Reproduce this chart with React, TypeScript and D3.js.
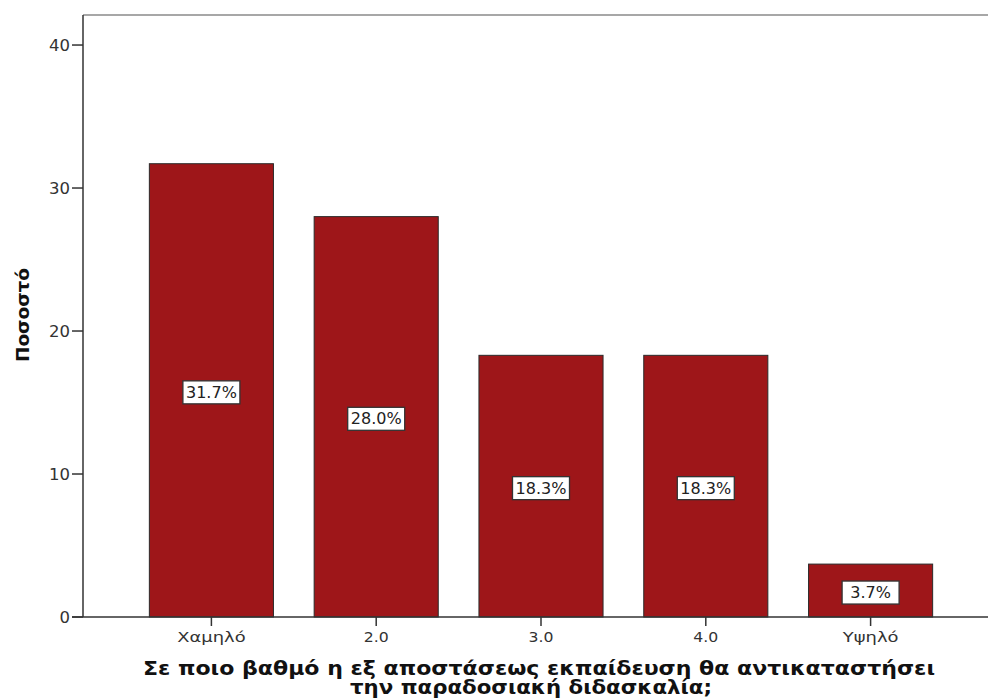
import React from "react";
import * as d3 from "d3";

const categories = ["Χαμηλό", "2.0", "3.0", "4.0", "Υψηλό"];
const percents = [31.7, 28.0, 18.3, 18.3, 3.7];
const yTicks = [0, 10, 20, 30, 40];
const yTitle = "Ποσοστό";
const xTitleLines = [
  "Σε ποιο βαθμό η εξ αποστάσεως εκπαίδευση θα αντικαταστήσει",
  "την παραδοσιακή διδασκαλία;",
];

const W = 988;
const H = 700;
const plot = { left: 83, right: 988, top: 15, bottom: 617 };
const FONT = "'DejaVu Sans', Verdana, sans-serif";

// wide, SPSS-like glyph proportions
const isGreek = (s: string) => /[\u0370-\u03ff]/.test(s);

export default function App() {
  const x = d3
    .scaleBand<string>()
    .domain(categories)
    .range([129, 953])
    .paddingInner(0.247)
    .paddingOuter(0.1235);
  const y = d3.scaleLinear().domain([0, 42.1]).range([plot.bottom, plot.top]);

  return (
    <div style={{ position: "fixed", left: 0, top: 0, width: W, height: H, overflow: "hidden" }}>
      <svg width={W} height={H} style={{ display: "block", background: "#fff" }}>
        {/* frame top line */}
        <line x1={plot.left} x2={plot.right} y1={plot.top} y2={plot.top} stroke="#8a8a8a" strokeWidth={1.5} />

        {/* bars */}
        {categories.map((c, i) => (
          <rect
            key={c}
            x={x(c)!}
            y={y(percents[i])}
            width={x.bandwidth()}
            height={y(0) - y(percents[i])}
            fill="#9e1619"
            stroke="#2a2a2a"
            strokeWidth={1}
          />
        ))}

        {/* value labels */}
        {categories.map((c, i) => {
          const cx = x(c)! + x.bandwidth() / 2;
          const cy = (y(0) + y(percents[i])) / 2 + 2;
          const label = `${percents[i].toFixed(1)}%`;
          const bw = 57;
          const bh = 23;
          return (
            <g key={`lab-${c}`}>
              <rect x={cx - bw / 2} y={cy - bh / 2} width={bw} height={bh} fill="#fff" stroke="#333" strokeWidth={1.3} />
              <text
                transform={`translate(${cx}, ${cy + 5.5}) scale(1.07, 1)`}
                textAnchor="middle"
                fontFamily={FONT}
                fontSize={15}
                fill="#222"
              >
                {label}
              </text>
            </g>
          );
        })}

        {/* y axis */}
        <line x1={plot.left} x2={plot.left} y1={plot.top} y2={plot.bottom} stroke="#333" strokeWidth={1.5} />
        {yTicks.map((t) => (
          <g key={`yt-${t}`}>
            <line x1={plot.left - 11} x2={plot.left} y1={y(t)} y2={y(t)} stroke="#333" strokeWidth={1.5} />
            <text
              transform={`translate(${plot.left - 13}, ${y(t) + 5.5}) scale(1.1, 1)`}
              textAnchor="end"
              fontFamily={FONT}
              fontSize={15}
              fill="#333"
            >
              {t}
            </text>
          </g>
        ))}

        {/* x axis */}
        <line x1={plot.left - 11} x2={plot.right} y1={plot.bottom} y2={plot.bottom} stroke="#333" strokeWidth={1.5} />
        {categories.map((c) => {
          const cx = x(c)! + x.bandwidth() / 2;
          const sx = isGreek(c) ? 1.28 : 1.12;
          return (
            <g key={`xt-${c}`}>
              <line x1={cx} x2={cx} y1={plot.bottom} y2={plot.bottom + 9} stroke="#333" strokeWidth={1.5} />
              <text
                transform={`translate(${cx}, ${plot.bottom + 25}) scale(${sx}, 1)`}
                textAnchor="middle"
                fontFamily={FONT}
                fontSize={14}
                fill="#333"
              >
                {c}
              </text>
            </g>
          );
        })}

        {/* axis titles */}
        <text
          transform={`translate(29, 315) rotate(-90)`}
          textAnchor="middle"
          fontFamily={FONT}
          fontWeight="bold"
          fontSize={18}
          fill="#111"
          textLength={94}
          lengthAdjust="spacingAndGlyphs"
        >
          {yTitle}
        </text>
        <text
          x={539 - 396}
          y={675}
          fontFamily={FONT}
          fontWeight="bold"
          fontSize={20}
          fill="#111"
          textLength={792}
          lengthAdjust="spacingAndGlyphs"
        >
          {xTitleLines[0]}
        </text>
        <text
          x={531 - 181}
          y={694}
          fontFamily={FONT}
          fontWeight="bold"
          fontSize={20}
          fill="#111"
          textLength={362}
          lengthAdjust="spacingAndGlyphs"
        >
          {xTitleLines[1]}
        </text>
      </svg>
    </div>
  );
}
